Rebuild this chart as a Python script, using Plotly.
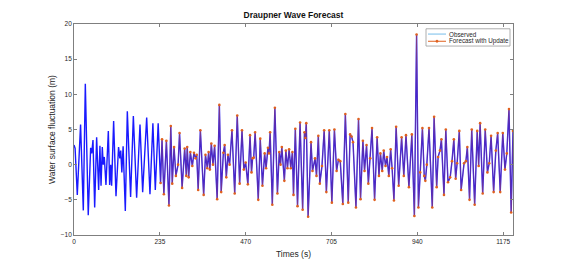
import plotly.graph_objects as go

# Observed surface elevation, time in seconds
time_s = [
    0, 3, 9, 18, 25.5, 31, 39, 45.6, 48.5, 52, 56.6, 62, 67.5, 71, 74, 77.5, 80, 83, 87.5, 94,
    97.6, 100.5, 103, 108.5, 115, 122, 125.5, 128, 131, 134.5, 140.5, 146, 155, 162.5, 171.5,
    180.7, 188, 199, 208, 216, 222.6, 230.5, 237,
    241, 246, 253, 260, 265, 269, 274, 279, 285, 289, 296, 303, 307.5, 310, 314, 318.5, 324,
    328.5, 333, 336, 340, 346, 355, 360, 365, 368.6, 372, 376, 380.5, 385, 392, 398, 403, 409,
    412.5, 417, 421.5, 426, 432.5, 440, 447, 453.5, 460, 465, 470, 476, 482,
    486, 489, 492, 496, 504.5, 510, 516, 522, 526, 531, 534, 537, 543, 550, 557, 562, 565.5,
    569, 576, 580, 584.5, 589, 593.5, 598, 601, 606, 612, 619, 626, 631, 633.5, 636, 641, 649,
    653, 660, 664, 669, 673, 679, 685, 691, 699, 706, 713, 719,
    724, 729, 736, 743, 751, 756, 760, 764, 772, 779, 784.5, 791, 795.5, 801, 806, 811, 816,
    823, 830, 835, 839, 844, 848, 853, 857, 862, 867, 871, 876, 882, 889, 897, 903, 909, 917,
    925, 932, 938, 943, 948, 954,
    959, 962, 966, 972, 981, 986, 993, 997, 1002, 1006, 1013, 1018, 1024, 1030, 1035, 1040,
    1045, 1049, 1055, 1060, 1068, 1073, 1077, 1083, 1089, 1097, 1104, 1108, 1112, 1119, 1126,
    1132, 1137, 1142, 1149, 1155, 1160, 1167, 1174, 1180, 1185, 1191, 1197, 1202,
]
height_m = [
    2.8, 2.3, -4.3, 5.7, -6.5, 11.5, -7.2, 2.4, 1.6, 3.5, -6.1, 3.9, -3.6, 2.7, -3.0, 2.5, 0, 1.1, -2.9, 4.8,
    -2.9, 0, -3.0, 6.2, -4.5, 2.5, 0.9, 2.0, -1.1, 2.6, -6.6, 7.6, -4.6, 6.9, -4.7,
    5.7, -3.9, 6.7, -4.2, 5.9, -3.6, 5.9, -2.6,
    3.6, -4.2, 3.4, -5.8, 5.5, -2.7, 2.5, -1.6, 0, 4.5, -3.3, 2.3, -1.6, 2.5, -1.8, 1.8, -0.2,
    1.7, 0.9, 1.4, -3.6, 4.9, -4.3, 1.4, -0.5, 1.8, -0.7, 3.0, 0, 2.7, -4.9, 8.5, -3.9, 1.7,
    2.8, -1.8, 1.4, 0, 4.9, -4.1, 7.0, -2.7, 4.9, -0.7, 0.3, -2.8, 4.2,
    -1.1, 0.9, 1.0, 4.6, -5.0, 3.7, -3.0, 1.6, -0.5, 2.4, 1.6, 4.6, -5.7, 8.1, -4.1, 1.8, 0,
    2.5, -2.3, 2.0, -0.5, 2.2, -0.5, 1.8, -4.3, 5.1, -5.9, 6.0, -6.4, 4.6, 3.8, 5.9, -7.4, 3.2,
    -0.9, 0.9, -1.6, 4.1, -2.7, -0.2, 4.9, -3.9, 4.9, -5.4, 5.0, -0.9,
    0.7, 0.5, -5.6, 7.2, -5.4, 4.3, 4.0, 3.2, -6.1, 6.5, -4.9, 3.4, -0.9, 2.8, -2.7, 0.9, 5.2,
    -5.0, 3.9, -1.6, 1.6, -0.9, 2.0, -0.2, 1.1, -1.6, 2.2, -0.5, -5.1, 5.4, -3.0, 3.9, -1.6, 4.2, -3.2,
    4.3, -7.3, 18.5, -6.1, -1.1, 5.2,
    -1.6, -2.3, 0, 5.2, -6.1, 6.8, -3.2, 1.1, 2.0, 3.6, -4.3, 5.0, -2.5, -1.8, 0.5, 3.6,
    -2.0, 0.2, 4.8, -3.6, 0.2, 0.5, 2.5, -5.0, 5.0, -5.7, 4.8, -0.2, 5.9, -4.1, 5.0,
    -1.1, 0.2, 4.1, -3.9, 2.0, 4.5, -3.9, 4.5, -0.7, 1.6, 7.9, -6.8, 4.8,
]
forecast_start_s = 235
series_names = ["Observed", "Forecast with Update"]

x_ticks = [0, 235, 470, 705, 940, 1175]
y_ticks = [-10, -5, 0, 5, 10, 15, 20]

fc_t = [t for t in time_s if t >= forecast_start_s]
fc_v = [v for t, v in zip(time_s, height_m) if t >= forecast_start_s]

font = "Liberation Sans, Arial, sans-serif"
axis_col = "#7f7f7f"
text_col = "#262626"
obs_col = "#8cc8ee"
fc_col = "#e0601e"

# page is offset by the 8px body margin
W, H = 560, 262
L, T = 66, 12
PW, PH = 439, 220

fig = go.Figure()
fig.add_trace(go.Scatter(x=time_s, y=height_m, mode="lines", name=series_names[0],
                         line=dict(color="#1a1aff", width=1.4), showlegend=False))
fig.add_trace(go.Scatter(x=fc_t, y=fc_v, mode="lines+markers", name=series_names[1],
                         line=dict(color="rgba(217,83,25,0.5)", width=0.7),
                         marker=dict(color=fc_col, size=2.6), showlegend=False))


def px(X):
    return (X - 74) / PW


def py(Y):
    return (240 - Y) / PH


shapes = [
    dict(type="rect", xref="paper", yref="paper", x0=px(426), x1=px(510), y0=py(43), y1=py(25),
         fillcolor="white", line=dict(color="#999", width=0.8), layer="above"),
    dict(type="line", xref="paper", yref="paper", x0=px(428), x1=px(446), y0=py(30.5), y1=py(30.5),
         line=dict(color=obs_col, width=1.2), layer="above"),
    dict(type="line", xref="paper", yref="paper", x0=px(428), x1=px(446), y0=py(38), y1=py(38),
         line=dict(color=fc_col, width=1), layer="above"),
    dict(type="circle", xref="paper", yref="paper", x0=px(435.8), x1=px(438.2), y0=py(39.2), y1=py(36.8),
         fillcolor=fc_col, line=dict(color=fc_col, width=0.5), layer="above"),
]
annotations = [
    dict(text=series_names[0], xref="paper", yref="paper", x=px(447), y=py(30.5),
         xanchor="left", yanchor="middle", showarrow=False, font=dict(size=6.3, color=text_col)),
    dict(text=series_names[1], xref="paper", yref="paper", x=px(447), y=py(38),
         xanchor="left", yanchor="middle", showarrow=False, font=dict(size=6.3, color=text_col)),
]

fig.update_layout(
    width=W, height=H,
    margin=dict(l=L, r=W - L - PW, t=T, b=H - T - PH, pad=0),
    paper_bgcolor="white", plot_bgcolor="white",
    font=dict(family=font, size=6.5, color=text_col),
    title=dict(text="<b>Draupner Wave Forecast</b>", x=(L + PW / 2) / W, xanchor="center",
               y=1 - 7 / H, yanchor="middle", yref="container",
               font=dict(family=font, size=8.5, color="#111")),
    showlegend=False,
    shapes=shapes,
    annotations=annotations,
)
fig.update_xaxes(range=[0, 1202], tickvals=x_ticks, ticks="inside", ticklen=3,
                 tickcolor=axis_col, showline=True, linecolor=axis_col, linewidth=0.8,
                 mirror="ticks", showgrid=False, zeroline=False,
                 title=dict(text="Times (s)", font=dict(size=8.5, color=text_col), standoff=7),
                 tickfont=dict(size=6.5, color=text_col))
fig.update_yaxes(range=[-10, 20], tickvals=y_ticks, ticks="inside", ticklen=3,
                 tickcolor=axis_col, showline=True, linecolor=axis_col, linewidth=0.8,
                 mirror="ticks", showgrid=False, zeroline=False,
                 title=dict(text="Water surface fluctuation (m)", font=dict(size=8.5, color=text_col),
                            standoff=3),
                 tickfont=dict(size=6.5, color=text_col))

fig.write_html("out.html")
